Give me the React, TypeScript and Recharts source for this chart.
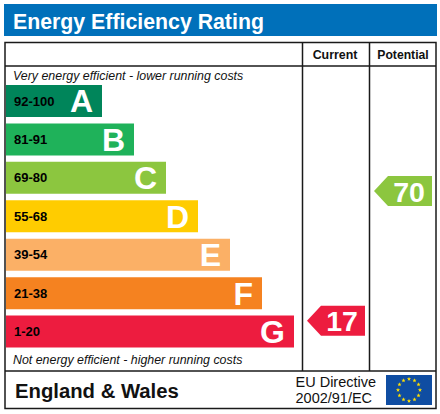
import React from 'react';
import { ComposedChart, Bar, XAxis, YAxis, Cell, LabelList, ReferenceDot } from 'recharts';

const letters = ['A', 'B', 'C', 'D', 'E', 'F', 'G'];
const ranges = ['92-100', '81-91', '69-80', '55-68', '39-54', '21-38', '1-20'];
const lengths = [3, 4, 5, 6, 7, 8, 9];
const colors = ['#00855a', '#1fb25a', '#8cc63f', '#ffcc00', '#fbb066', '#f58220', '#ed1c3f'];
const currentScore = 17;
const currentBand = 'G';
const potentialScore = 70;
const potentialBand = 'C';
const title = 'Energy Efficiency Rating';
const topNote = 'Very energy efficient - lower running costs';
const bottomNote = 'Not energy efficient - higher running costs';

const rows = letters.map((letter, i) => ({ letter, range: ranges[i], length: lengths[i], color: colors[i] }));
const FONT = '"Liberation Sans", Arial, sans-serif';
const FRAME = '#1a1a1a';

const Arrow = (props: any) => {
  const { cx, cy, fill, score, dy } = props;
  const y = cy + dy;
  const pts = [[cx - 29, y], [cx - 15, y - 15], [cx + 29, y - 15], [cx + 29, y + 15], [cx - 15, y + 15]];
  return (
    <g>
      <polygon points={pts.map((p) => p.join(',')).join(' ')} fill={fill} />
      <text x={cx + 6} y={y + 10.5} textAnchor="middle" fontFamily={FONT} fontWeight="bold" fontSize={28.5} fill="#fff">{score}</text>
    </g>
  );
};

const star = (cx: number, cy: number, r: number) => {
  const p: string[] = [];
  for (let i = 0; i < 10; i++) {
    const a = -Math.PI / 2 + (i * Math.PI) / 5;
    const rad = i % 2 === 0 ? r : r * 0.42;
    p.push(`${cx + rad * Math.cos(a)},${cy + rad * Math.sin(a)}`);
  }
  return p.join(' ');
};

const flagStars = Array.from({ length: 12 }, (_, i) => i);

export default function App() {
  return (
    <div style={{ position: 'absolute', left: 0, top: 0, width: 440, height: 414, background: '#fff' }}>
      <ComposedChart
        width={440}
        height={414}
        layout="vertical"
        data={rows}
        margin={{ top: 82, right: 2, bottom: 63, left: 6 }}
        style={{ fontFamily: FONT }}
      >
        <rect x={4} y={4} width={433} height={32} fill="#0070ba" />
        <text x={13} y={29} fontFamily={FONT} fontWeight="bold" fontSize={21.3} fill="#fff">{title}</text>
        <rect x={5} y={42.5} width={431} height={366} fill="none" stroke={FRAME} strokeWidth={1.5} />
        <line x1={5} x2={436} y1={66} y2={66} stroke={FRAME} strokeWidth={1.5} />
        <line x1={5} x2={436} y1={371} y2={371} stroke={FRAME} strokeWidth={1.5} />
        <line x1={302.5} x2={302.5} y1={42} y2={371} stroke={FRAME} strokeWidth={1.5} />
        <line x1={369.5} x2={369.5} y1={42} y2={371} stroke={FRAME} strokeWidth={1.5} />
        <text x={335} y={59} textAnchor="middle" fontFamily={FONT} fontWeight="bold" fontSize={12.4} fill="#111">Current</text>
        <text x={403} y={59} textAnchor="middle" fontFamily={FONT} fontWeight="bold" fontSize={12.2} fill="#111">Potential</text>
        <text x={13} y={80} fontFamily={FONT} fontStyle="italic" fontSize={12.4} fill="#111">{topNote}</text>
        <text x={13} y={364} fontFamily={FONT} fontStyle="italic" fontSize={12.4} fill="#111">{bottomNote}</text>
        <text x={15} y={398} fontFamily={FONT} fontWeight="bold" fontSize={20.3} fill="#111">England &amp; Wales</text>
        <text x={295.5} y={387} fontFamily={FONT} fontSize={14.5} fill="#111">EU Directive</text>
        <text x={295.5} y={403} fontFamily={FONT} fontSize={14.5} fill="#111">2002/91/EC</text>
        <rect x={386} y={375} width={46} height={30} fill="#0f4da2" />
        {flagStars.map((i) => {
          const a = (i * Math.PI) / 6;
          return <polygon key={i} points={star(409 + 11 * Math.sin(a), 390 - 11 * Math.cos(a), 2.2)} fill="#ffe000" />;
        })}
        <XAxis type="number" hide domain={[0, 13.5]} allowDataOverflow />
        <YAxis type="category" dataKey="letter" hide width={0} />
        <Bar dataKey="length" barSize={32} isAnimationActive={false}>
          {rows.map((r) => <Cell key={r.letter} fill={r.color} />)}
          <LabelList dataKey="range" position="insideLeft" offset={8} fill="#000" fontFamily={FONT} fontWeight="bold" fontSize={13} />
          <LabelList dataKey="letter" position="insideRight" offset={9} fill="#fff" fontFamily={FONT} fontWeight="bold" fontSize={32} />
        </Bar>
        <ReferenceDot
          x={10.3125}
          y={currentBand}
          ifOverflow="visible"
          shape={(p: any) => <Arrow {...p} fill={colors[letters.indexOf(currentBand)]} score={currentScore} dy={-11} />}
        />
        <ReferenceDot
          x={12.40625}
          y={potentialBand}
          ifOverflow="visible"
          shape={(p: any) => <Arrow {...p} fill={colors[letters.indexOf(potentialBand)]} score={potentialScore} dy={13} />}
        />
      </ComposedChart>
    </div>
  );
}
